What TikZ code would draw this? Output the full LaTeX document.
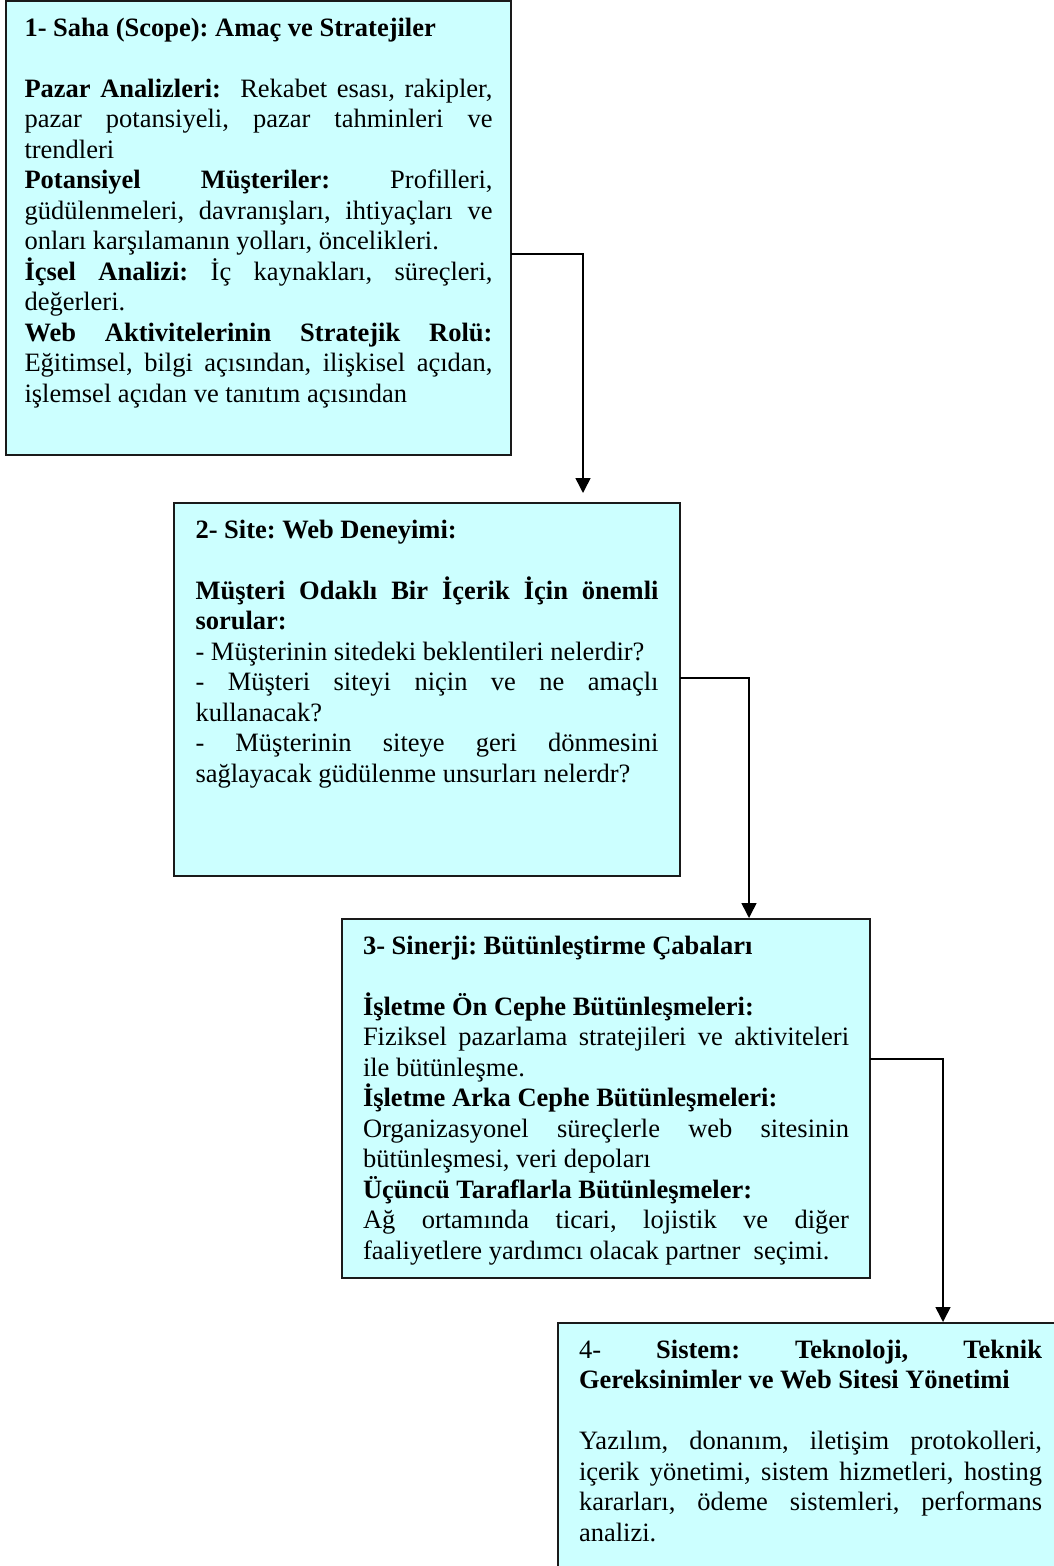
\documentclass[tikz,border=0pt]{standalone}
\usepackage{fontspec}
\setmainfont{Liberation Serif}
\usetikzlibrary{arrows.meta}

\definecolor{cardfill}{HTML}{CCFFFF}
\definecolor{cardline}{HTML}{1A1A1A}

% one justified (stretched) line, one plain line, one empty line
\newcommand\jline[1]{\makebox[\linewidth][s]{#1}\par}
\newcommand\pline[1]{\mbox{#1}\par}
\newcommand\gapline{\mbox{}\par}
% card text: fixed width and height, set from the top
\newcommand\cardbody[3]{\begin{minipage}[t][#2][t]{#1}%
  \fontsize{26.5}{30.5}\selectfont\frenchspacing\parskip=0pt\relax
  \leavevmode\strut #3\end{minipage}}

\tikzset{
  card/.style={rectangle, draw=cardline, fill=cardfill, line width=2pt,
    outer sep=0pt, inner ysep=13.65pt, anchor=north west},
  link/.style={draw=black, line width=1.5pt,
    -{Triangle[width=15pt,length=15pt]}}
}

\begin{document}
\begin{tikzpicture}[x=1pt,y=-1pt]
\useasboundingbox (0,0) rectangle (1054,1566);

\node[card, inner xsep=18.5pt] (b1) at (6,1) {\cardbody{468pt}{426.7pt}{%
\pline{\textbf{1- Saha (Scope): Amaç ve Stratejiler}}
\gapline
\jline{\textbf{Pazar Analizleri:}\ \ Rekabet esası, rakipler,}
\jline{pazar potansiyeli, pazar tahminleri ve}
\pline{trendleri}
\jline{\textbf{Potansiyel Müşteriler:} Profilleri,}
\jline{güdülenmeleri, davranışları, ihtiyaçları ve}
\pline{onları karşılamanın yolları, öncelikleri.}
\jline{\textbf{İçsel Analizi:} İç kaynakları, süreçleri,}
\pline{değerleri.}
\jline{\textbf{Web Aktivitelerinin Stratejik Rolü:}}
\jline{Eğitimsel, bilgi açısından, ilişkisel açıdan,}
\pline{işlemsel açıdan ve tanıtım açısından}}};

\node[card, inner xsep=21.5pt] (b2) at (174,503) {\cardbody{463pt}{345.7pt}{%
\pline{\textbf{2- Site: Web Deneyimi:}}
\gapline
\jline{\textbf{Müşteri Odaklı Bir İçerik İçin önemli}}
\pline{\textbf{sorular:}}
\pline{- Müşterinin sitedeki beklentileri nelerdir?}
\jline{- Müşteri siteyi niçin ve ne amaçlı}
\pline{kullanacak?}
\jline{- Müşterinin siteye geri dönmesini}
\pline{sağlayacak güdülenme unsurları nelerdr?}}};

\node[card, inner xsep=21pt] (b3) at (342,919) {\cardbody{486pt}{331.7pt}{%
\pline{\textbf{3- Sinerji: Bütünleştirme Çabaları}}
\gapline
\pline{\textbf{İşletme Ön Cephe Bütünleşmeleri:}}
\jline{Fiziksel pazarlama stratejileri ve aktiviteleri}
\pline{ile bütünleşme.}
\pline{\textbf{İşletme Arka Cephe Bütünleşmeleri:}}
\jline{Organizasyonel süreçlerle web sitesinin}
\pline{bütünleşmesi, veri depoları}
\pline{\textbf{Üçüncü Taraflarla Bütünleşmeler:}}
\jline{Ağ ortamında ticari, lojistik ve diğer}
\pline{faaliyetlere yardımcı olacak partner\ \ seçimi.}}};

\node[card, inner xsep=21pt] (b4) at (558,1323) {\cardbody{463pt}{272.7pt}{%
\jline{4- \textbf{Sistem:} \textbf{Teknoloji,} \textbf{Teknik}}
\pline{\textbf{Gereksinimler ve Web Sitesi Yönetimi}}
\gapline
\jline{Yazılım, donanım, iletişim protokolleri,}
\jline{içerik yönetimi, sistem hizmetleri, hosting}
\jline{kararları, ödeme sistemleri, performans}
\pline{analizi.}}};

% elbow connectors between the stages
\coordinate (k1) at (583,254);
\coordinate (k2) at (749,678);
\coordinate (k3) at (943,1059);
\draw[link, shorten >=10pt] (b1.east |- k1) -- (k1) -- (k1 |- b2.north);
\draw[link, shorten >=1pt] (b2.east |- k2) -- (k2) -- (k2 |- b3.north);
\draw[link, shorten >=1pt] (b3.east |- k3) -- (k3) -- (k3 |- b4.north);
\end{tikzpicture}
\end{document}
